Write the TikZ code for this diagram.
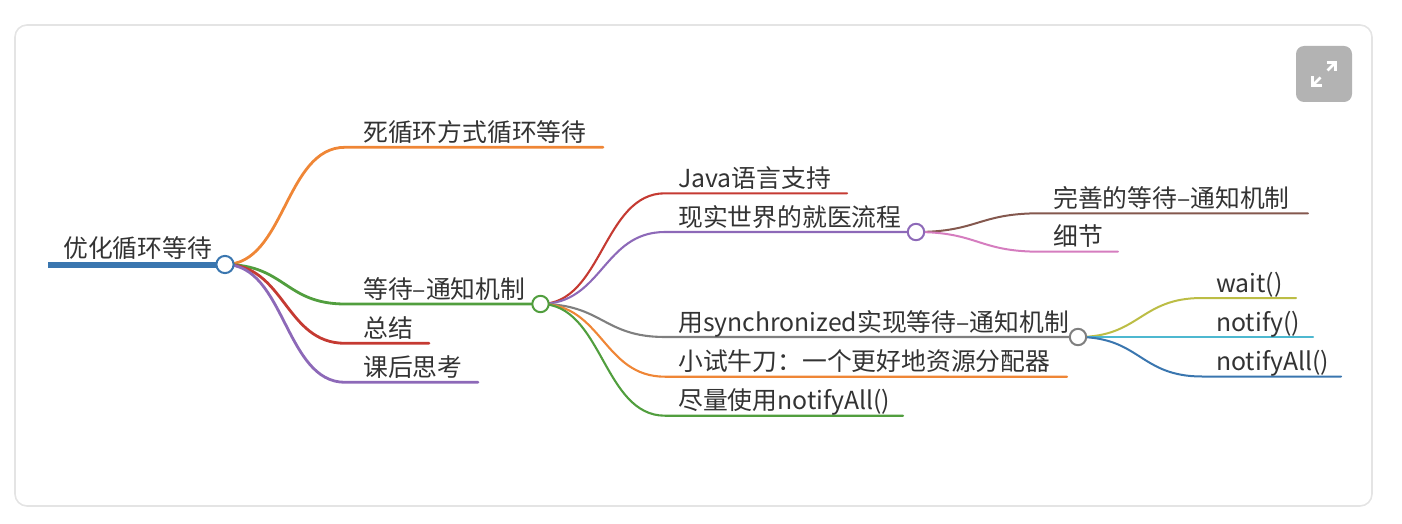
\documentclass[tikz,border=0pt]{standalone}
\usepackage{fontspec}
\setmainfont{Noto Sans CJK SC}
\definecolor{cblue}{HTML}{3A76AF}
\definecolor{corange}{HTML}{EF8636}
\definecolor{cgreen}{HTML}{519E3E}
\definecolor{cred}{HTML}{C53A32}
\definecolor{cpurple}{HTML}{8D69B8}
\definecolor{cbrown}{HTML}{84584E}
\definecolor{cpink}{HTML}{D57DBF}
\definecolor{cgray}{HTML}{7F7F7F}
\definecolor{colive}{HTML}{BCBD45}
\definecolor{ccyan}{HTML}{4DB8D0}
\definecolor{textgray}{HTML}{333333}
\definecolor{framegray}{HTML}{E4E4E4}
\definecolor{btngray}{HTML}{B3B3B3}
\begin{document}
\begin{tikzpicture}[x=1pt,y=-1pt,
  txt/.style={anchor=base west,inner sep=0pt,text=textgray,font=\fontsize{24.8}{28}\selectfont},
  lvone/.style={line width=2.8pt,line cap=round},
  lvtwo/.style={line width=2.1pt,line cap=round},
  lvthree/.style={line width=2pt,line cap=round},
  knob/.style={fill=white,line width=2pt}]
\useasboundingbox (0,0) rectangle (1402,524);
\draw[framegray,line width=1.6pt,rounded corners=12pt] (15,25) rectangle (1372,506);
% expand button
\fill[btngray,rounded corners=8pt] (1296,46) rectangle (1352,102);
\draw[white,line width=2.6pt] (1312.5,85.5)--(1320.5,77.5);
\draw[white,line width=2.6pt] (1312.5,76.5)--(1312.5,85.5)--(1321.5,85.5);
\draw[white,line width=2.6pt] (1335.5,62.5)--(1327.5,70.5);
\draw[white,line width=2.6pt] (1326.5,62.5)--(1335.5,62.5)--(1335.5,71.5);
% coordinates
\coordinate (R) at (225,264.5);
\coordinate (As) at (345,147.3); \coordinate (Ae) at (603,147.3);
\coordinate (Bs) at (345,304); \coordinate (G) at (540.5,304);
\coordinate (Cs) at (345,343.3); \coordinate (Ce) at (429,343.3);
\coordinate (Ds) at (345,382.3); \coordinate (De) at (478,382.3);
\coordinate (E1s) at (665,193.3); \coordinate (E1e) at (847,193.3);
\coordinate (E2s) at (665,232); \coordinate (P) at (916,232);
\coordinate (E3s) at (665,337); \coordinate (Q) at (1078,337);
\coordinate (E4s) at (665,376.7); \coordinate (E4e) at (1067,376.7);
\coordinate (E5s) at (665,415.7); \coordinate (E5e) at (903,415.7);
\coordinate (F1s) at (1040,213.3); \coordinate (F1e) at (1308,213.3);
\coordinate (F2s) at (1040,251.7); \coordinate (F2e) at (1118,251.7);
\coordinate (H1s) at (1202,298); \coordinate (H1e) at (1296,298);
\coordinate (H2e) at (1313,337);
\coordinate (H3s) at (1202,376.5); \coordinate (H3e) at (1341,376.5);
\coordinate (Rs) at (48,264.5);
% root line
\draw[cblue,line width=6pt] (Rs) -- (R);
% level 1
\draw[lvone,corange] (R) .. controls ([xshift=60pt]R) and ([xshift=-60pt]As) .. (As) -- (Ae);
\draw[lvone,cgreen] (R) .. controls ([xshift=60pt]R) and ([xshift=-60pt]Bs) .. (Bs) -- (G);
\draw[lvone,cred] (R) .. controls ([xshift=60pt]R) and ([xshift=-60pt]Cs) .. (Cs) -- (Ce);
\draw[lvone,cpurple] (R) .. controls ([xshift=60pt]R) and ([xshift=-60pt]Ds) .. (Ds) -- (De);
% level 2
\draw[lvtwo,cred] (G) .. controls ([xshift=62pt]G) and ([xshift=-62pt]E1s) .. (E1s) -- (E1e);
\draw[lvtwo,cpurple] (G) .. controls ([xshift=62pt]G) and ([xshift=-62pt]E2s) .. (E2s) -- (P);
\draw[lvtwo,cgray] (G) .. controls ([xshift=62pt]G) and ([xshift=-62pt]E3s) .. (E3s) -- (Q);
\draw[lvtwo,corange] (G) .. controls ([xshift=62pt]G) and ([xshift=-62pt]E4s) .. (E4s) -- (E4e);
\draw[lvtwo,cgreen] (G) .. controls ([xshift=62pt]G) and ([xshift=-62pt]E5s) .. (E5s) -- (E5e);
% level 3
\draw[lvthree,cbrown] (P) .. controls ([xshift=62pt]P) and ([xshift=-62pt]F1s) .. (F1s) -- (F1e);
\draw[lvthree,cpink] (P) .. controls ([xshift=62pt]P) and ([xshift=-62pt]F2s) .. (F2s) -- (F2e);
\draw[lvthree,colive] (Q) .. controls ([xshift=62pt]Q) and ([xshift=-62pt]H1s) .. (H1s) -- (H1e);
\draw[lvthree,ccyan] (Q) -- (H2e);
\draw[lvthree,cblue] (Q) .. controls ([xshift=62pt]Q) and ([xshift=-62pt]H3s) .. (H3s) -- (H3e);
% knobs
\draw[cblue,knob] (R) circle (8.6pt);
\draw[cgreen,knob] (G) circle (8.2pt);
\draw[cpurple,knob] (P) circle (8.2pt);
\draw[cgray,knob] (Q) circle (8.2pt);
% texts
\node[txt] (tR) at (63,257.5) {优化循环等待};
\node[txt] (tA) at (363,141.3) {死循环方式循环等待};
\node[txt] (tB) at (363,298) {等待–通知机制};
\node[txt] (tC) at (363,337.3) {总结};
\node[txt] (tD) at (363,376.3) {课后思考};
\node[txt] (tE1) at (678,187.3) {Java语言支持};
\node[txt] (tE2) at (678,226) {现实世界的就医流程};
\node[txt] (tE3) at (678,331) {用synchronized实现等待–通知机制};
\node[txt] (tE4) at (678,370.7) {小试牛刀：一个更好地资源分配器};
\node[txt] (tE5) at (678,409.7) {尽量使用notifyAll()};
\node[txt] (tF1) at (1053,207.3) {完善的等待–通知机制};
\node[txt] (tF2) at (1053,245.7) {细节};
\node[txt] (tH1) at (1216,292) {wait()};
\node[txt] (tH2) at (1216,331) {notify()};
\node[txt] (tH3) at (1216,370.5) {notifyAll()};
\end{tikzpicture}
\end{document}
